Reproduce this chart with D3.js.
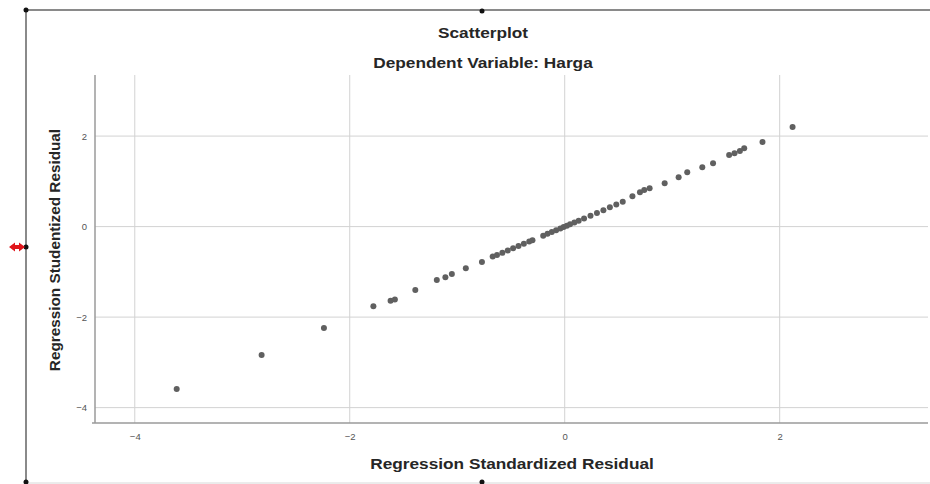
<!DOCTYPE html>
<html>
<head>
<meta charset="utf-8">
<script src="https://cdn.jsdelivr.net/npm/d3@7"></script>
<style>
    body { margin: 0; background: #fff; }
    text { font-family: "Liberation Sans", Arial, sans-serif; }
</style>
</head>
<body>
<svg id="chart" width="930" height="484"></svg>
<script>
let title = "Scatterplot";
let subtitle = "Dependent Variable: Harga";
let xLabel = "Regression Standardized Residual";
let yLabel = "Regression Studentized Residual";

let xTicks = [-4, -2, 0, 2];
let yTicks = [2, 0, -2, -4];

// standardized residual (x) / studentized residual (y)
let stdResid = [-3.61, -2.82, -2.24, -1.78, -1.62, -1.58, -1.39, -1.19, -1.11, -1.05, -0.92, -0.77,
    -0.67, -0.63, -0.58, -0.53, -0.48, -0.43, -0.38, -0.33, -0.30,
    -0.20, -0.16, -0.12, -0.08, -0.04, -0.01, 0.02, 0.05, 0.09, 0.13, 0.18, 0.24, 0.30, 0.36, 0.42, 0.48, 0.54,
    0.63, 0.70, 0.74, 0.79, 0.93, 1.06, 1.14, 1.28, 1.38, 1.53, 1.58, 1.63, 1.67, 1.84, 2.12];
let studResid = [-3.59, -2.84, -2.24, -1.76, -1.64, -1.61, -1.40, -1.18, -1.12, -1.05, -0.92, -0.78,
    -0.66, -0.63, -0.58, -0.53, -0.48, -0.43, -0.38, -0.33, -0.30,
    -0.20, -0.16, -0.12, -0.08, -0.04, -0.01, 0.02, 0.05, 0.09, 0.13, 0.18, 0.24, 0.30, 0.36, 0.43, 0.49, 0.55,
    0.67, 0.76, 0.81, 0.85, 0.96, 1.09, 1.20, 1.31, 1.40, 1.58, 1.62, 1.67, 1.73, 1.87, 2.20];

let svg = d3.select("#chart");

let plot = { left: 95, right: 928, top: 75, bottom: 423 };

let xScale = d3.scaleLinear()
    .domain([-4.37, 3.38])
    .range([plot.left, plot.right]);

let yScale = d3.scaleLinear()
    .domain([-4.34, 3.35])
    .range([plot.bottom, plot.top]);

// outer frame of the output item
let frame = svg.append("g");
frame.append("line")
    .attr("x1", 26).attr("y1", 10).attr("x2", 930).attr("y2", 10)
    .attr("stroke", "#8a8a8a").attr("stroke-width", 2);
frame.append("line")
    .attr("x1", 26).attr("y1", 10).attr("x2", 26).attr("y2", 484)
    .attr("stroke", "#8a8a8a").attr("stroke-width", 2);
frame.append("line")
    .attr("x1", 26).attr("y1", 483).attr("x2", 930).attr("y2", 483)
    .attr("stroke", "#d8d8d8").attr("stroke-width", 1);
frame.selectAll("circle")
    .data([[26, 10], [482, 11], [26, 247], [26, 482], [482, 482]])
    .enter()
    .append("circle")
    .attr("cx", (d) => d[0])
    .attr("cy", (d) => d[1])
    .attr("r", 2.5)
    .attr("fill", "#111");
frame.append("path")
    .attr("d", "M9,247 L15,242.5 L15,245 L19,245 L19,242.5 L25,247 L19,251.5 L19,249 L15,249 L15,251.5 Z")
    .attr("fill", "#e0151b");

// grid
let grid = svg.append("g");
grid.selectAll(".vgrid")
    .data(xTicks)
    .enter()
    .append("line")
    .attr("x1", (d) => xScale(d))
    .attr("x2", (d) => xScale(d))
    .attr("y1", plot.top)
    .attr("y2", plot.bottom)
    .attr("stroke", "#d2d2d2");
grid.selectAll(".hgrid")
    .data(yTicks)
    .enter()
    .append("line")
    .attr("x1", plot.left)
    .attr("x2", plot.right)
    .attr("y1", (d) => yScale(d))
    .attr("y2", (d) => yScale(d))
    .attr("stroke", "#d2d2d2");

// axes
let xAxis = svg.append("g")
    .attr("transform", `translate(0,${plot.bottom})`)
    .call(d3.axisBottom(xScale).tickValues(xTicks).tickSize(0).tickPadding(10));
let yAxis = svg.append("g")
    .attr("transform", `translate(${plot.left},0)`)
    .call(d3.axisLeft(yScale).tickValues(yTicks).tickSize(0).tickPadding(8));

for (let axis of [xAxis, yAxis]) {
    axis.select(".domain").attr("stroke", "#9a9a9a").attr("stroke-width", 1.5);
    axis.selectAll("text")
        .attr("fill", "#555")
        .style("font-size", "9.5px")
        .style("font-family", "'Liberation Sans', Arial, sans-serif");
}
yAxis.select(".domain").attr("d", `M0,${plot.top}V${plot.bottom}`);
xAxis.select(".domain").attr("d", `M${plot.left - 3},0H${plot.right}`);

// points
let points = stdResid.map((x, i) => ({ x: x, y: studResid[i] }));
svg.append("g")
    .selectAll("circle")
    .data(points)
    .enter()
    .append("circle")
    .attr("cx", (d) => xScale(d.x))
    .attr("cy", (d) => yScale(d.y))
    .attr("r", 3)
    .attr("fill", "#606060");

// titles: the picture is stretched sideways, so horizontal text is widened
function wideText(x, y, str) {
    svg.append("text")
        .attr("transform", `translate(${x},${y}) scale(1.15,1)`)
        .attr("text-anchor", "middle")
        .attr("font-size", 15).attr("font-weight", "bold").attr("fill", "#262626")
        .text(str);
}
wideText(483, 38, title);
wideText(483, 68, subtitle);
wideText(512, 469, xLabel);

svg.append("text")
    .attr("transform", "translate(60,250) rotate(-90)")
    .attr("text-anchor", "middle")
    .attr("font-size", 15.3).attr("font-weight", "bold").attr("fill", "#262626")
    .text(yLabel);
</script>
</body>
</html>
